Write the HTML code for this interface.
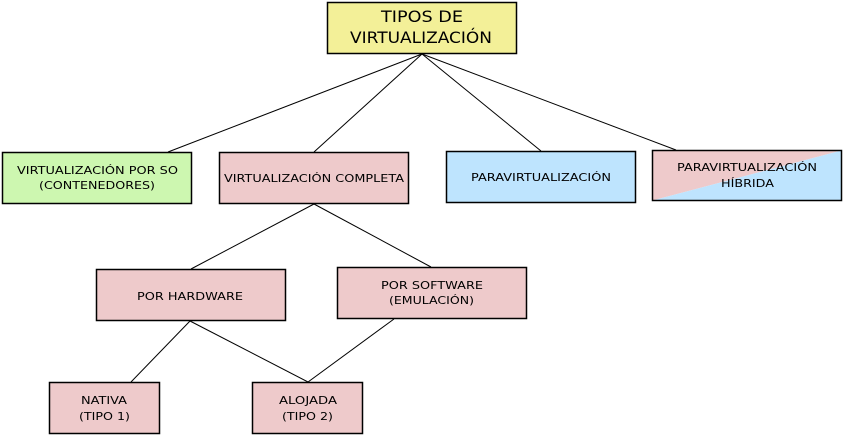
<!DOCTYPE html>
<html><head><meta charset="utf-8"><style>
html,body{margin:0;padding:0;background:#fff;width:843px;height:435px;overflow:hidden}
svg{display:block}
text{font-family:"DejaVu Sans","Liberation Sans",sans-serif;fill:#000}
.s{font-size:11px}
</style></head><body>
<svg width="843" height="435" viewBox="0 0 843 435" xmlns="http://www.w3.org/2000/svg">
<g stroke="#000" stroke-width="1">
<line x1="422" y1="54" x2="168" y2="152"/>
<line x1="422" y1="54" x2="314" y2="152"/>
<line x1="422" y1="54" x2="541" y2="151"/>
<line x1="422" y1="54" x2="676" y2="150"/>
<line x1="314" y1="204" x2="191" y2="269"/>
<line x1="314" y1="204" x2="431" y2="267"/>
<line x1="190" y1="321" x2="131" y2="382"/>
<line x1="190" y1="321" x2="308" y2="382"/>
<line x1="394" y1="319" x2="308" y2="382"/>
</g>
<g stroke="#000" stroke-width="1.5">
<rect x="327.5" y="2.5" width="189" height="51" fill="#f3f098"/>
<rect x="2.5" y="152.5" width="189" height="51" fill="#cdf7b0"/>
<rect x="219.5" y="152.5" width="189" height="51" fill="#eecacb"/>
<rect x="446.5" y="151.5" width="189" height="51" fill="#bee4fe"/>
<polygon points="652.5,150.5 841.5,150.5 652.5,200.5" fill="#eecacb" stroke="none"/>
<polygon points="841.5,150.5 841.5,200.5 652.5,200.5" fill="#bee4fe" stroke="none"/>
<rect x="652.5" y="150.5" width="189" height="50" fill="none"/>
<rect x="96.5" y="269.5" width="189" height="51" fill="#eecacb"/>
<rect x="337.5" y="267.5" width="189" height="51" fill="#eecacb"/>
<rect x="49.5" y="382.5" width="110" height="51" fill="#eecacb"/>
<rect x="252.5" y="382.5" width="110" height="51" fill="#eecacb"/>
</g>
<text x="381" y="22" font-size="16" textLength="82" lengthAdjust="spacingAndGlyphs">TIPOS DE</text>
<text x="350" y="43" font-size="16" textLength="142" lengthAdjust="spacingAndGlyphs">VIRTUALIZACIÓN</text>
<text class="s" x="17" y="174" textLength="161" lengthAdjust="spacingAndGlyphs">VIRTUALIZACIÓN POR SO</text>
<text class="s" x="39" y="189" textLength="116" lengthAdjust="spacingAndGlyphs">(CONTENEDORES)</text>
<text class="s" x="224" y="182" textLength="180" lengthAdjust="spacingAndGlyphs">VIRTUALIZACIÓN COMPLETA</text>
<text class="s" x="471" y="181" textLength="140" lengthAdjust="spacingAndGlyphs">PARAVIRTUALIZACIÓN</text>
<text class="s" x="677" y="171" textLength="140" lengthAdjust="spacingAndGlyphs">PARAVIRTUALIZACIÓN</text>
<text class="s" x="721" y="187" textLength="53" lengthAdjust="spacingAndGlyphs">HÍBRIDA</text>
<text class="s" x="137" y="300" textLength="106" lengthAdjust="spacingAndGlyphs">POR HARDWARE</text>
<text class="s" x="381" y="289" textLength="102" lengthAdjust="spacingAndGlyphs">POR SOFTWARE</text>
<text class="s" x="389" y="304" textLength="85" lengthAdjust="spacingAndGlyphs">(EMULACIÓN)</text>
<text class="s" x="81" y="404" textLength="46" lengthAdjust="spacingAndGlyphs">NATIVA</text>
<text class="s" x="79" y="420" textLength="51" lengthAdjust="spacingAndGlyphs">(TIPO 1)</text>
<text class="s" x="279" y="404" textLength="58" lengthAdjust="spacingAndGlyphs">ALOJADA</text>
<text class="s" x="282" y="420" textLength="51" lengthAdjust="spacingAndGlyphs">(TIPO 2)</text>
</svg>
</body></html>
